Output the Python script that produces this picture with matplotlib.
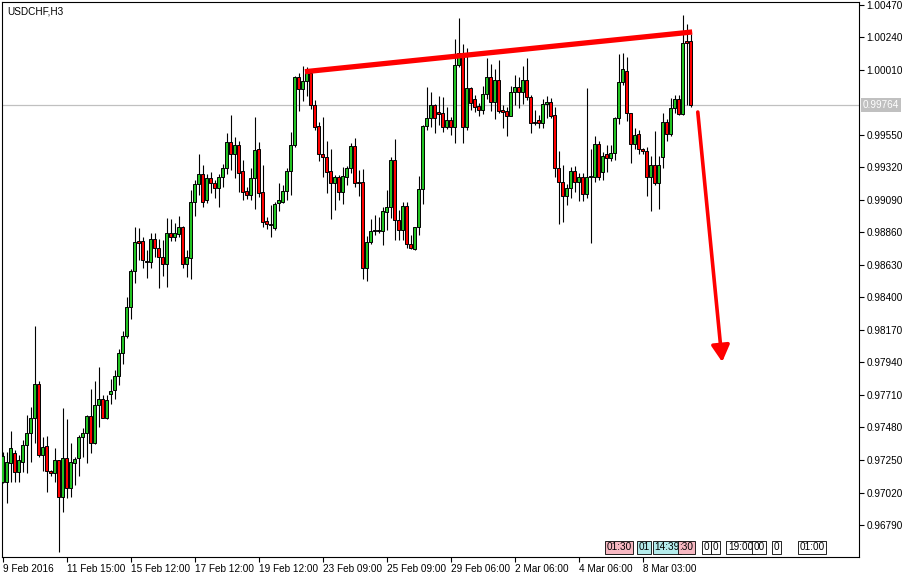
import numpy as np
import matplotlib
matplotlib.use("Agg")
import matplotlib.pyplot as plt

# данные свечей USDCHF H3
opens = [0.97096, 0.97096, 0.97230, 0.97297, 0.97167, 0.97237, 0.97353, 0.97438, 0.97544, 0.97785,
         0.97285, 0.97348, 0.97169, 0.97160, 0.97247, 0.96990, 0.97261, 0.97053, 0.97228, 0.97266,
         0.97412, 0.97438, 0.97561, 0.97372, 0.97636, 0.97681, 0.97549, 0.97716, 0.97745, 0.97844,
         0.98004, 0.98126, 0.98329, 0.98588, 0.98796, 0.98796, 0.98657, 0.98652, 0.98813, 0.98749,
         0.98685, 0.98634, 0.98853, 0.98829, 0.98848, 0.98895, 0.98634, 0.98678, 0.99072, 0.99199,
         0.99270, 0.99086, 0.99242, 0.99207, 0.99171, 0.99253, 0.99313, 0.99497, 0.99412, 0.99477,
         0.99291, 0.99150, 0.99122, 0.99242, 0.99447, 0.99143, 0.98940, 0.98919, 0.98888, 0.99069,
         0.99076, 0.99150, 0.99291, 0.99475, 0.99956, 0.99871, 0.99928, 0.99985, 0.99758, 0.99612,
         0.99412, 0.99390, 0.99291, 0.99207, 0.99249, 0.99147, 0.99253, 0.99313, 0.99470, 0.99216,
         0.99214, 0.98605, 0.98789, 0.98871, 0.98876, 0.98869, 0.99001, 0.99037, 0.99371, 0.98947,
         0.98876, 0.99046, 0.98775, 0.98744, 0.98895, 0.99164, 0.99612, 0.99666, 0.99758, 0.99709,
         0.99702, 0.99603, 0.99654, 0.99607, 1.00043, 1.00126, 0.99607, 0.99878, 0.99801, 0.99751,
         0.99727, 0.99836, 0.99956, 0.99784, 0.99937, 0.99725, 0.99718, 0.99685, 0.99850, 0.99886,
         0.99850, 0.99937, 0.99815, 0.99642, 0.99654, 0.99631, 0.99765, 0.99779, 0.99690, 0.99313,
         0.99218, 0.99119, 0.99171, 0.99291, 0.99218, 0.99249, 0.99129, 0.99249, 0.99253, 0.99482,
         0.99284, 0.99412, 0.99388, 0.99423, 0.99666, 0.99925, 1.00003, 0.99702, 0.99482, 0.99553,
         0.99447, 0.99435, 0.99249, 0.99336, 0.99211, 0.99395, 0.99638, 0.99555, 0.99737, 0.99801,
         0.99697, 1.00213, 1.00213]
highs = [0.97306, 0.97308, 0.97455, 0.97320, 0.97283, 0.97391, 0.97568, 0.97626, 0.98197, 0.97808,
         0.97414, 0.97419, 0.97179, 0.97332, 0.97247, 0.97619, 0.97537, 0.97368, 0.97273, 0.97428,
         0.97476, 0.97568, 0.97752, 0.97808, 0.97909, 0.97709, 0.97709, 0.97820, 0.97886, 0.98035,
         0.98164, 0.98404, 0.98600, 0.98895, 0.98888, 0.98825, 0.98735, 0.98853, 0.98853, 0.98810,
         0.98805, 0.98959, 0.98952, 0.98924, 0.98977, 0.98904, 0.98735, 0.99159, 0.99230, 0.99414,
         0.99336, 0.99270, 0.99289, 0.99230, 0.99270, 0.99341, 0.99560, 0.99690, 0.99532, 0.99506,
         0.99371, 0.99182, 0.99313, 0.99673, 0.99497, 0.99336, 0.98970, 0.99053, 0.99076, 0.99211,
         0.99194, 0.99313, 0.99569, 0.99965, 0.99989, 1.00036, 1.00031, 0.99996, 0.99796, 0.99642,
         0.99678, 0.99508, 0.99449, 0.99265, 0.99265, 0.99324, 0.99329, 0.99489, 0.99525, 0.99301,
         0.99308, 0.98836, 0.98954, 0.98982, 0.98970, 0.99041, 0.99159, 0.99395, 0.99520, 0.99018,
         0.99076, 0.99076, 0.98841, 0.98900, 0.99258, 0.99619, 0.99886, 0.99850, 0.99767, 0.99824,
         0.99815, 0.99748, 0.99678, 1.00225, 1.00374, 1.00190, 1.00161, 0.99886, 0.99831, 0.99772,
         0.99895, 1.00095, 1.00050, 1.00013, 1.00079, 0.99760, 0.99748, 0.99897, 0.99973, 0.99961,
         1.00036, 1.00091, 0.99831, 0.99725, 0.99690, 0.99801, 0.99824, 0.99808, 0.99744, 0.99435,
         0.99336, 0.99199, 0.99324, 0.99329, 0.99281, 0.99277, 0.99878, 0.99447, 0.99541, 0.99506,
         0.99430, 0.99477, 0.99477, 0.99673, 1.00119, 1.00126, 1.00102, 0.99702, 0.99596, 0.99584,
         0.99458, 0.99465, 0.99400, 0.99576, 0.99400, 0.99706, 0.99659, 0.99812, 0.99831, 0.99831,
         1.00397, 1.00333, 1.00263]
lows = [0.97087, 0.96943, 0.97096, 0.97096, 0.97096, 0.97162, 0.97160, 0.97237, 0.97368, 0.97273,
        0.97172, 0.97025, 0.97136, 0.97096, 0.96601, 0.96879, 0.96983, 0.96990, 0.97073, 0.97138,
        0.97273, 0.97226, 0.97297, 0.97363, 0.97485, 0.97544, 0.97539, 0.97646, 0.97679, 0.97780,
        0.97928, 0.98112, 0.98247, 0.98503, 0.98664, 0.98605, 0.98539, 0.98605, 0.98687, 0.98464,
        0.98553, 0.98475, 0.98801, 0.98801, 0.98825, 0.98605, 0.98546, 0.98527, 0.98975, 0.99124,
        0.99037, 0.99065, 0.99136, 0.99100, 0.99037, 0.99182, 0.99270, 0.99301, 0.99242, 0.99147,
        0.99088, 0.99093, 0.99088, 0.99023, 0.99112, 0.98900, 0.98881, 0.98829, 0.98880, 0.99013,
        0.99065, 0.99088, 0.99124, 0.99461, 0.99720, 0.99791, 0.99824, 0.99730, 0.99584, 0.99366,
        0.99249, 0.99136, 0.98952, 0.99018, 0.99088, 0.99060, 0.99194, 0.99277, 0.99182, 0.99117,
        0.98527, 0.98518, 0.98780, 0.98841, 0.98855, 0.98770, 0.98876, 0.98959, 0.98805, 0.98805,
        0.98805, 0.98747, 0.98740, 0.98735, 0.98841, 0.99058, 0.99584, 0.99603, 0.99564, 0.99619,
        0.99571, 0.99591, 0.99548, 0.99494, 1.00031, 0.99489, 0.99584, 0.99725, 0.99713, 0.99683,
        0.99697, 0.99801, 0.99718, 0.99661, 0.99702, 0.99600, 0.99543, 0.99683, 0.99760, 0.99741,
        0.99765, 0.99796, 0.99560, 0.99619, 0.99596, 0.99596, 0.99666, 0.99666, 0.99253, 0.98917,
        0.98931, 0.99053, 0.99100, 0.99147, 0.99083, 0.99083, 0.99105, 0.98782, 0.99218, 0.99230,
        0.99230, 0.99284, 0.99364, 0.99371, 0.99626, 0.99902, 0.99649, 0.99352, 0.99447, 0.99414,
        0.99412, 0.99117, 0.99013, 0.99194, 0.99023, 0.99313, 0.99506, 0.99541, 0.99706, 0.99690,
        0.99690, 0.99760, 0.99748]
closes = [0.97278, 0.97233, 0.97332, 0.97167, 0.97247, 0.97353, 0.97438, 0.97544, 0.97785, 0.97285,
          0.97341, 0.97174, 0.97160, 0.97247, 0.96990, 0.97261, 0.97053, 0.97233, 0.97254, 0.97412,
          0.97438, 0.97561, 0.97372, 0.97636, 0.97681, 0.97549, 0.97674, 0.97737, 0.97841, 0.98008,
          0.98126, 0.98334, 0.98586, 0.98789, 0.98786, 0.98664, 0.98652, 0.98813, 0.98747, 0.98687,
          0.98634, 0.98853, 0.98829, 0.98853, 0.98895, 0.98634, 0.98685, 0.99072, 0.99199, 0.99270,
          0.99076, 0.99242, 0.99207, 0.99171, 0.99253, 0.99313, 0.99497, 0.99412, 0.99477, 0.99281,
          0.99147, 0.99122, 0.99242, 0.99442, 0.99140, 0.98935, 0.98917, 0.98914, 0.99058, 0.99086,
          0.99150, 0.99291, 0.99475, 0.99956, 0.99871, 0.99928, 0.99985, 0.99758, 0.99607, 0.99412,
          0.99390, 0.99284, 0.99207, 0.99249, 0.99143, 0.99260, 0.99313, 0.99470, 0.99211, 0.99211,
          0.98605, 0.98789, 0.98869, 0.98876, 0.98869, 0.99011, 0.99037, 0.99371, 0.98947, 0.98876,
          0.99046, 0.98775, 0.98751, 0.98895, 0.99164, 0.99612, 0.99666, 0.99758, 0.99666, 0.99695,
          0.99603, 0.99654, 0.99607, 1.00043, 1.00126, 0.99607, 0.99878, 0.99777, 0.99748, 0.99727,
          0.99836, 0.99956, 0.99784, 0.99937, 0.99720, 0.99713, 0.99685, 0.99850, 0.99886, 0.99850,
          0.99937, 0.99815, 0.99635, 0.99635, 0.99631, 0.99765, 0.99779, 0.99685, 0.99313, 0.99218,
          0.99119, 0.99171, 0.99291, 0.99218, 0.99248, 0.99129, 0.99249, 0.99258, 0.99482, 0.99253,
          0.99400, 0.99388, 0.99423, 0.99666, 0.99921, 1.00013, 0.99702, 0.99482, 0.99546, 0.99447,
          0.99435, 0.99249, 0.99336, 0.99211, 0.99336, 0.99638, 0.99553, 0.99737, 0.99801, 0.99697,
          1.00197, 1.00201, 0.99764]

current_price = 0.99764
price_ticks = [0.96790, 0.97020, 0.97250, 0.97480, 0.97710, 0.97940, 0.98170, 0.98400,
               0.98630, 0.98860, 0.99090, 0.99320, 0.99550, 1.00010, 1.00240, 1.00470]
date_tick_bars = [0, 16, 32, 48, 64, 80, 96, 112, 128, 144, 160]
date_labels = ["9 Feb 2016", "11 Feb 15:00", "15 Feb 12:00", "17 Feb 12:00", "19 Feb 12:00",
               "23 Feb 09:00", "25 Feb 09:00", "29 Feb 06:00", "2 Mar 06:00", "4 Mar 06:00",
               "8 Mar 03:00"]

# линия тренда и стрелка прогноза (бар, цена)
trend_bars = [75.6, 172.4]
trend_prices = [0.99996, 1.00277]
arrow_start = (173.8, 0.99711)
arrow_end = (179.9, 0.97943)

# события календаря внизу графика (бар, текст, цвет)
event_bars = [150.9, 159.0, 163.0, 169.2, 175.2, 177.6, 181.3, 187.7, 192.7, 199.2]
event_texts = ["01:30", "01", "14:39", ":30", "0", "0", "19:00", "00", "0", "01:00"]
event_colors = ["#f7b8c2", "#b4ecec", "#b4ecec", "#f7b8c2", "white", "white",
                "white", "white", "white", "white"]

FONT = "Liberation Sans"
FS = 7.2

fig = plt.figure(figsize=(9.12, 5.78), dpi=100)
ax = fig.add_axes([2 / 912, 21.3 / 578, 857 / 912, 554.7 / 578])

x = np.arange(len(opens))
o = np.array(opens)
c = np.array(closes)
h = np.array(highs)
l = np.array(lows)

colors = np.where(c >= o, "#22c322", "#ff0000")
bottoms = np.minimum(o, c)
heights = np.maximum(np.abs(c - o), 0.000005)

ax.axhline(current_price, color="#c0c0c0", linewidth=0.9, zorder=1)
ax.vlines(x, l, h, color="black", linewidth=0.8, zorder=2)
ax.bar(x, heights, bottom=bottoms, width=0.75, color=colors, edgecolor="black",
       linewidth=0.7, zorder=3)

# красная линия тренда
ax.plot(trend_bars, trend_prices, color="#ff0000", linewidth=3.8, solid_capstyle="butt", zorder=4)
# стрелка вниз
ax.annotate("", xy=arrow_end, xytext=arrow_start,
            arrowprops=dict(arrowstyle="-|>,head_width=0.55,head_length=1.0", color="#ff0000",
                            linewidth=2.6, mutation_scale=10, shrinkA=0, shrinkB=0), zorder=4)

ax.set_xlim(-0.125, 214.1)
ax.set_ylim(0.96566, 1.00489)

for sp in ax.spines.values():
    sp.set_color("black")
    sp.set_linewidth(0.8)

ax.yaxis.tick_right()
ax.set_yticks(price_ticks)
ax.set_yticklabels([f"{p:.5f}" for p in price_ticks], fontfamily=FONT, fontsize=FS)
ax.tick_params(axis="y", direction="out", length=3.5, width=0.8, pad=2)

ax.set_xticks(date_tick_bars)
ax.set_xticklabels(date_labels, fontfamily=FONT, fontsize=FS, ha="left")
ax.tick_params(axis="x", direction="out", length=3.5, width=0.8, pad=2)

# метка текущей цены
ytrans = ax.get_yaxis_transform()
ax.text(1 + 4 / 857, current_price, "0.99764", transform=ytrans, fontfamily=FONT, fontsize=FS,
        color="white", va="center", ha="left",
        bbox=dict(boxstyle="square,pad=0.2", facecolor="#c0c0c0", edgecolor="none"), clip_on=False)

# название инструмента
ax.text(5 / 857, 1 - 4 / 554.7, "USDCHF,H3", transform=ax.transAxes, fontfamily=FONT,
        fontsize=FS, va="top", ha="left")

# события
xtrans = ax.get_xaxis_transform()
for i, (b, t, col) in enumerate(zip(event_bars, event_texts, event_colors)):
    ax.text(b, 0.0166, t, transform=xtrans, fontfamily=FONT, fontsize=FS, va="center",
            ha="left", zorder=5 + i,
            bbox=dict(boxstyle="square,pad=0.15", facecolor=col, edgecolor="black", linewidth=0.6))

fig.savefig("out.png", dpi=100)
